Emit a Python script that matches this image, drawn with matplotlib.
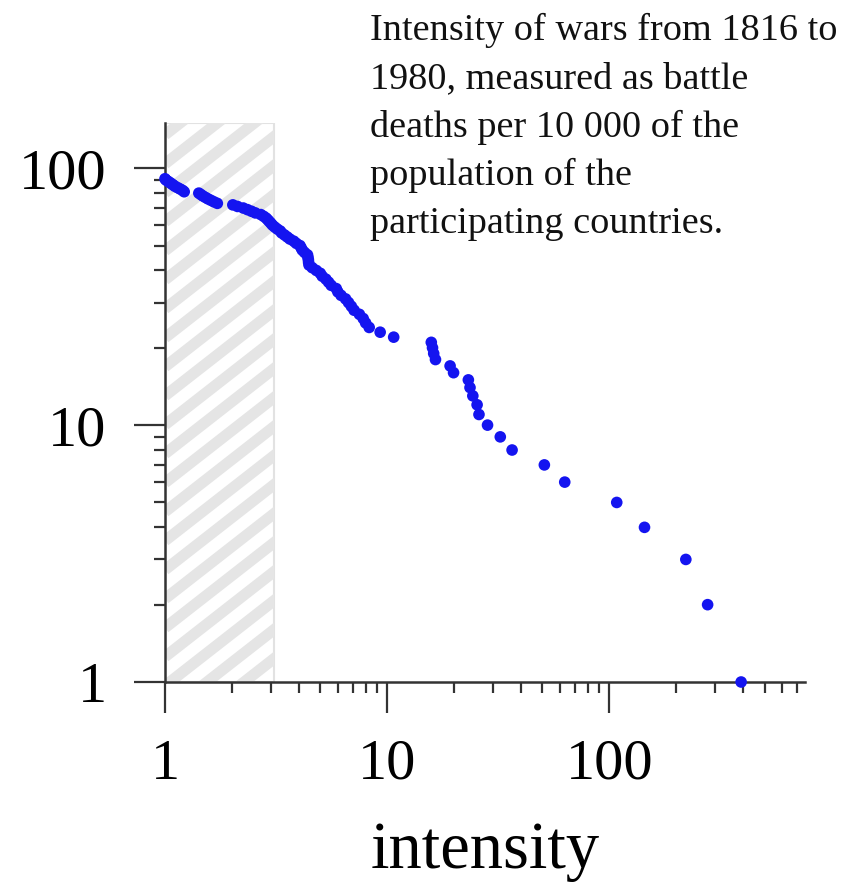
import matplotlib
matplotlib.use("Agg")
import matplotlib.pyplot as plt
from matplotlib.ticker import LogLocator, NullFormatter, FixedLocator, FixedFormatter
import numpy as np

plt.rcParams['font.family'] = ['Liberation Serif', 'DejaVu Serif']

# battle deaths per 10 000 population, one value per war, largest first
intensity = [392, 277, 221, 144, 108, 63, 51, 36.5, 32.3, 28.3,
             25.9, 25.4, 24.3, 23.6, 23.2, 19.9, 19.2, 16.5, 16.2, 16.0,
             15.8, 10.7, 9.3, 8.3, 8.0, 7.8, 7.5, 7.1, 6.9, 6.7,
             6.5, 6.2, 6.0, 5.9, 5.6, 5.45, 5.3, 5.1, 5.0, 4.8,
             4.6, 4.45, 4.43, 4.42, 4.4, 4.38, 4.25, 4.15, 4.1, 4.05,
             3.9, 3.8, 3.65, 3.55, 3.45, 3.35, 3.3, 3.2, 3.12, 3.05,
             3.0, 2.95, 2.9, 2.85, 2.78, 2.7, 2.55, 2.45, 2.35, 2.25,
             2.12, 2.02, 1.72, 1.66, 1.61, 1.56, 1.52, 1.48, 1.45, 1.42,
             1.22, 1.2, 1.17, 1.14, 1.11, 1.09, 1.07, 1.05, 1.03, 1.01,
             1.0]
# rank = number of wars at least this intense
rank = np.arange(1, len(intensity) + 1)

cutoff = 3.1
major_ticks = [1, 10, 100]
major_labels = ['1', '10', '100']

note = ("Intensity of wars from 1816 to\n1980, measured as battle\n"
        "deaths per 10 000 of the\npopulation of the\nparticipating countries.")

fig = plt.figure(figsize=(8.45, 8.85), dpi=100)
W, H = 845, 885
ax = fig.add_axes([165 / W, 1 - 682 / H, 640 / W, 559 / H])
ax.set_xscale('log')
ax.set_yscale('log')
ax.set_xlim(1, 760)
ax.set_ylim(1, 150)

# striped band for the low-intensity range
band = ax.axvspan(1, cutoff, facecolor='white', edgecolor='#e2e2e2', lw=1.5, zorder=0)
slope = np.tan(np.radians(38)) * (640 / 559)
for c in np.arange(-1.2, 1.2, 29 / 559):
    xs = np.array([0, 0.25])
    ln, = ax.plot(xs, c + slope * xs, transform=ax.transAxes, color='#e5e5e5',
                  lw=8, solid_capstyle='butt', zorder=0.5)
    ln.set_clip_path(band)

ax.scatter(intensity, rank, s=70, color='#1414f0', edgecolors='none',
           zorder=3, clip_on=False)

for side in ['top', 'right']:
    ax.spines[side].set_visible(False)
for side in ['left', 'bottom']:
    ax.spines[side].set_color('#333333')
    ax.spines[side].set_linewidth(1.8)

for axis in [ax.xaxis, ax.yaxis]:
    axis.set_major_locator(FixedLocator(major_ticks))
    axis.set_major_formatter(FixedFormatter(major_labels))
    axis.set_minor_locator(LogLocator(base=10, subs=np.arange(2, 10)))
    axis.set_minor_formatter(NullFormatter())

ax.tick_params(which='major', direction='out', length=22, width=1.6,
               color='#333333', labelsize=42)
ax.tick_params(which='minor', direction='out', length=8, width=1.6,
               color='#333333')
ax.tick_params(axis='x', which='major', pad=19)
ax.tick_params(axis='y', which='major', pad=20)

ax.set_xlabel('intensity', fontsize=48, labelpad=22)

fig.text(370 / W, 1 - 13 / H, note, ha='left', va='top', fontsize=27.5,
         linespacing=1.5, color='#111111')

fig.savefig('out.png', dpi=100)
